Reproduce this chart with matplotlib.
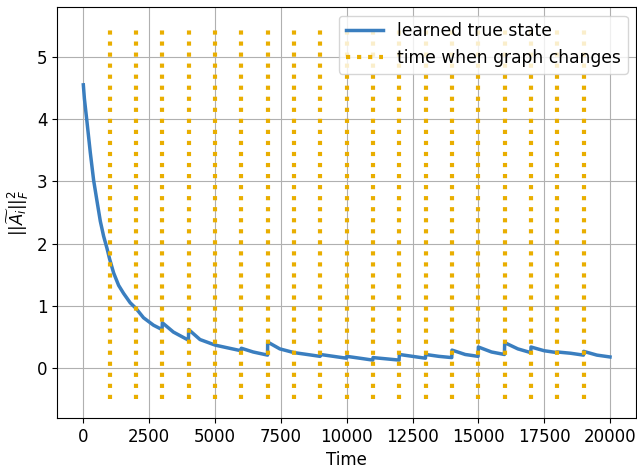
import matplotlib
matplotlib.use("Agg")
import matplotlib.pyplot as plt

# learned true state curve (time, value); repeated times mark jumps at graph changes
t_vals = [0, 40, 140, 265, 390, 520, 645, 770, 895, 1000,
          1150, 1340, 1530, 1780, 2000, 2285, 2665, 2990,
          3000, 3420, 3990,
          4000, 4430, 5010, 5440, 5990,
          6000, 6450, 6995,
          7000, 7460, 8000, 8500, 8990,
          9000, 9500, 9990,
          10000, 10500, 10990,
          11000, 11500, 11990,
          12000, 12500, 12990,
          13000, 13500, 13990,
          14000, 14500, 14990,
          15000, 15500, 15990,
          16000, 16500, 16990,
          17000, 17500, 17990,
          18000, 18500, 18990,
          19000, 19500, 20000]
y_vals = [4.55, 4.33, 3.95, 3.46, 3.02, 2.68, 2.36, 2.12, 1.93, 1.75,
          1.53, 1.33, 1.20, 1.05, 0.96, 0.81, 0.69, 0.62,
          0.73, 0.58, 0.45,
          0.62, 0.46, 0.37, 0.33, 0.28,
          0.32, 0.26, 0.21,
          0.42, 0.31, 0.25, 0.22, 0.19,
          0.22, 0.19, 0.16,
          0.19, 0.16, 0.13,
          0.17, 0.15, 0.13,
          0.22, 0.19, 0.16,
          0.22, 0.19, 0.17,
          0.29, 0.22, 0.19,
          0.34, 0.26, 0.22,
          0.41, 0.31, 0.25,
          0.34, 0.28, 0.25,
          0.26, 0.24, 0.21,
          0.27, 0.21, 0.18]

change_times = [1000, 2000, 3000, 4000, 5000, 6000, 7000, 8000, 9000, 10000,
                11000, 12000, 13000, 14000, 15000, 16000, 17000, 18000, 19000]
change_ymin = -0.5
change_ymax = 5.5

plt.rcParams['font.size'] = 12

fig = plt.figure(figsize=(6.37, 4.71), dpi=100)
ax = fig.add_axes([57 / 637, 1 - 418 / 471, (637 - 57) / 637 - 0.001, (418 - 7) / 471])

ax.plot(t_vals, y_vals, color='#3a7ebf', linewidth=2.5, label='learned true state')
ax.vlines(change_times, change_ymin, change_ymax, colors='#e9ae00', linestyles=':',
          linewidth=3, label='time when graph changes')

ax.set_xlim(-1000, 21000)
ax.set_ylim(-0.8, 5.8)
ax.set_xticks([0, 2500, 5000, 7500, 10000, 12500, 15000, 17500, 20000])
ax.grid(True)
ax.set_xlabel('Time')
ax.set_ylabel(r'$||\widetilde{A_i}||_F^2$')
ax.legend(loc='upper right', fontsize=12.3, handlelength=2.2)

fig.savefig('out.png', dpi=100)
